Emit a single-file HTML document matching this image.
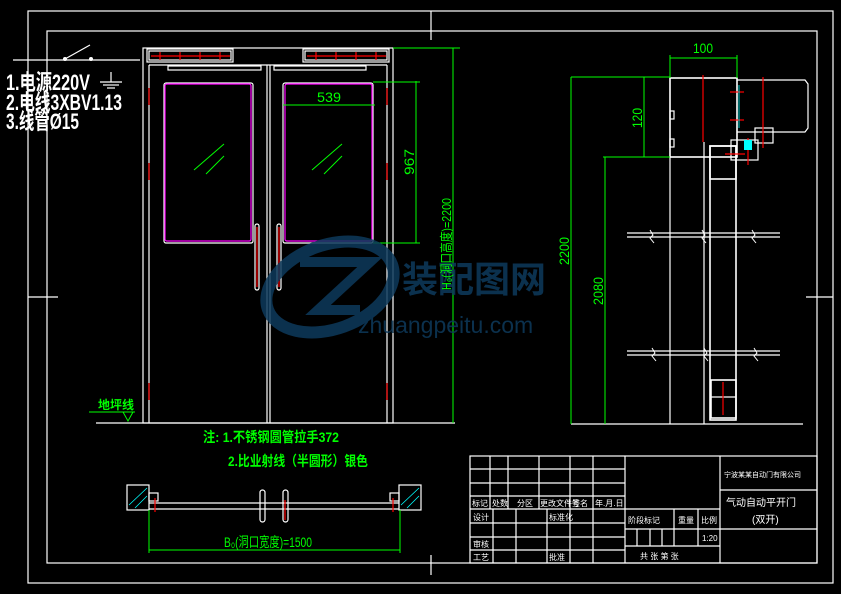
<!DOCTYPE html>
<html><head><meta charset="utf-8"><style>
html,body{margin:0;padding:0;background:#000;}
svg{display:block;}
text{font-family:"Liberation Sans","Noto Sans CJK SC",sans-serif;}
</style></head><body>
<svg width="841" height="594" viewBox="0 0 841 594" xmlns="http://www.w3.org/2000/svg">
<rect width="841" height="594" fill="#000"/>
<g fill="none" stroke="#fff" stroke-width="1.2">
<rect x="28" y="11" width="805" height="572"/>
<rect x="47" y="31" width="770" height="532"/>
<line x1="431" y1="11" x2="431" y2="40"/>
<line x1="28" y1="297" x2="58" y2="297"/>
<line x1="806" y1="297" x2="833" y2="297"/>
<line x1="431" y1="555" x2="431" y2="575"/>
<line x1="13" y1="60" x2="140" y2="60"/>
<line x1="65" y1="59" x2="90" y2="45"/>
<line x1="111" y1="72" x2="111" y2="82"/>
<line x1="100" y1="82" x2="122" y2="82"/>
<line x1="103" y1="85" x2="119" y2="85"/>
<line x1="107" y1="88" x2="115" y2="88"/>
<rect x="143" y="48" width="250" height="375"/>
<line x1="149" y1="65" x2="149" y2="423"/>
<line x1="387" y1="65" x2="387" y2="423"/>
<rect x="147" y="49" width="86" height="13"/>
<rect x="149" y="51" width="82" height="9"/>
<rect x="303" y="49" width="86" height="13"/>
<rect x="305" y="51" width="82" height="9"/>
<line x1="149" y1="65" x2="387" y2="65"/>
<rect x="168" y="66" width="93" height="4"/>
<rect x="274" y="66" width="92" height="4"/>
<line x1="267" y1="65" x2="267" y2="423"/>
<line x1="270" y1="65" x2="270" y2="423"/>
<rect x="164" y="83" width="89" height="160" rx="2"/>
<rect x="283" y="83" width="90" height="160" rx="2"/>
<rect x="255" y="224" width="4" height="66" rx="2"/>
<rect x="277" y="224" width="4" height="66" rx="2"/>
<line x1="96" y1="423" x2="455" y2="423"/>
<rect x="127" y="485" width="22" height="25"/>
<rect x="399" y="485" width="22" height="25"/>
<line x1="149" y1="503" x2="399" y2="503"/>
<line x1="149" y1="509" x2="399" y2="509"/>
<rect x="149" y="493" width="9" height="8"/>
<rect x="390" y="493" width="9" height="8"/>
<rect x="260" y="490" width="5" height="32" rx="2.5"/>
<rect x="283" y="490" width="5" height="32" rx="2.5"/>
<rect x="670" y="78" width="67" height="79" stroke-width="1.6"/>
<line x1="670" y1="157" x2="670" y2="424"/>
<line x1="704" y1="142" x2="704" y2="424"/>
<rect x="710" y="146" width="26" height="274" stroke-width="1.6"/>
<rect x="710" y="146" width="26" height="33" stroke-width="1.6"/>
<rect x="711" y="380" width="25" height="38" stroke-width="1.6"/>
<line x1="711" y1="397" x2="736" y2="397"/>
<path d="M737 80 H805 L808 84 V128 L805 132 H737"/>
<rect x="755" y="128" width="18" height="15"/>
<rect x="731" y="140" width="27" height="20"/>
<rect x="670" y="111" width="4" height="8"/>
<rect x="670" y="139" width="4" height="8"/>
<line x1="571" y1="424" x2="803" y2="424"/>
<line x1="627" y1="233" x2="780" y2="233"/>
<line x1="627" y1="237" x2="780" y2="237"/>
<line x1="627" y1="351" x2="780" y2="351"/>
<line x1="627" y1="355" x2="780" y2="355"/>
<rect x="470" y="456" width="347" height="107"/>
<line x1="470" y1="469" x2="625" y2="469"/>
<line x1="470" y1="483" x2="625" y2="483"/>
<line x1="470" y1="496" x2="625" y2="496"/>
<line x1="470" y1="509" x2="720" y2="509"/>
<line x1="470" y1="523" x2="625" y2="523"/>
<line x1="470" y1="537" x2="625" y2="537"/>
<line x1="470" y1="550" x2="625" y2="550"/>
<line x1="625" y1="529" x2="817" y2="529"/>
<line x1="625" y1="546" x2="720" y2="546"/>
<line x1="720" y1="490" x2="817" y2="490"/>
<line x1="625" y1="456" x2="625" y2="563"/>
<line x1="720" y1="456" x2="720" y2="563"/>
<line x1="490" y1="456" x2="490" y2="509"/>
<line x1="508" y1="456" x2="508" y2="509"/>
<line x1="539" y1="456" x2="539" y2="509"/>
<line x1="570" y1="456" x2="570" y2="509"/>
<line x1="593" y1="456" x2="593" y2="509"/>
<line x1="493" y1="509" x2="493" y2="563"/>
<line x1="516" y1="509" x2="516" y2="563"/>
<line x1="547" y1="509" x2="547" y2="563"/>
<line x1="570" y1="509" x2="570" y2="563"/>
<line x1="593" y1="509" x2="593" y2="563"/>
<line x1="674" y1="509" x2="674" y2="546"/>
<line x1="698" y1="509" x2="698" y2="546"/>
<line x1="637" y1="529" x2="637" y2="546"/>
<line x1="650" y1="529" x2="650" y2="546"/>
<line x1="662" y1="529" x2="662" y2="546"/>
</g>
<circle cx="65" cy="59" r="2" fill="#fff"/><circle cx="91" cy="59" r="2" fill="#fff"/>
<g fill="none" stroke="#fff" stroke-width="1">
<path d="M650 230 l3 5 -3 3 4 5"/><path d="M702 230 l3 5 -3 3 4 5"/><path d="M752 230 l3 5 -3 3 4 5"/>
<path d="M652 348 l3 5 -3 3 4 5"/><path d="M704 348 l3 5 -3 3 4 5"/><path d="M754 348 l3 5 -3 3 4 5"/>
</g>
<g fill="none" stroke="#f0f" stroke-width="1.2">
<rect x="165" y="84" width="86" height="157" rx="2"/>
<rect x="285" y="84" width="87" height="157" rx="2"/>
</g>
<g stroke="#f00" stroke-width="1.2" fill="none">
<line x1="151" y1="56" x2="230" y2="56"/><line x1="307" y1="56" x2="386" y2="56"/>
<line x1="160" y1="52" x2="160" y2="60"/><line x1="180" y1="52" x2="180" y2="60"/><line x1="200" y1="52" x2="200" y2="60"/><line x1="220" y1="52" x2="220" y2="60"/>
<line x1="316" y1="52" x2="316" y2="60"/><line x1="336" y1="52" x2="336" y2="60"/><line x1="356" y1="52" x2="356" y2="60"/><line x1="376" y1="52" x2="376" y2="60"/>
<line x1="149" y1="88" x2="149" y2="105"/><line x1="149" y1="163" x2="149" y2="180"/><line x1="149" y1="383" x2="149" y2="400"/>
<line x1="387" y1="88" x2="387" y2="105"/><line x1="387" y1="163" x2="387" y2="180"/><line x1="387" y1="383" x2="387" y2="400"/>
<line x1="257" y1="227" x2="257" y2="287"/><line x1="279" y1="227" x2="279" y2="287"/>
<line x1="703" y1="75" x2="703" y2="142"/><line x1="763" y1="77" x2="763" y2="148"/>
<line x1="730" y1="92" x2="744" y2="92"/><line x1="730" y1="120" x2="744" y2="120"/>
<line x1="725" y1="154" x2="745" y2="154"/><line x1="748" y1="138" x2="748" y2="165"/>
<line x1="723" y1="382" x2="723" y2="415"/>
<line x1="285" y1="500" x2="285" y2="520"/>
<line x1="155" y1="498" x2="155" y2="512"/><line x1="393" y1="498" x2="393" y2="512"/>
</g>
<rect x="744" y="140" width="8" height="10" fill="#0ff"/>
<g stroke="#0ff" stroke-width="0.8"><line x1="129" y1="505" x2="147" y2="488"/><line x1="135" y1="508" x2="147" y2="496"/><line x1="401" y1="505" x2="419" y2="488"/><line x1="407" y1="508" x2="419" y2="496"/><line x1="739" y1="85" x2="739" y2="128"/></g>
<g stroke="#0f0" stroke-width="1" fill="none">
<line x1="194" y1="170" x2="224" y2="144"/><line x1="206" y1="174" x2="224" y2="156"/>
<line x1="312" y1="170" x2="342" y2="144"/><line x1="324" y1="174" x2="342" y2="156"/>
<line x1="283" y1="105" x2="375" y2="105"/>
<line x1="416" y1="81" x2="416" y2="243"/>
<line x1="373" y1="82" x2="420" y2="82"/><line x1="373" y1="243" x2="420" y2="243"/>
<line x1="453" y1="48" x2="453" y2="423"/>
<line x1="393" y1="48" x2="460" y2="48"/>
<line x1="89" y1="412" x2="135" y2="412"/>
<path d="M123 412 l5 9 5 -9"/>
<line x1="149" y1="510" x2="149" y2="553"/><line x1="400" y1="510" x2="400" y2="553"/>
<line x1="149" y1="550" x2="400" y2="550"/>
<line x1="670" y1="55" x2="670" y2="78"/><line x1="737" y1="55" x2="737" y2="78"/>
<line x1="670" y1="58" x2="737" y2="58"/>
<line x1="571" y1="77" x2="670" y2="77"/>
<line x1="644" y1="77" x2="644" y2="157"/>
<line x1="603" y1="157" x2="670" y2="157"/>
<line x1="571" y1="77" x2="571" y2="424"/>
<line x1="605" y1="157" x2="605" y2="424"/>
</g>
<g opacity="0.85">
<ellipse cx="330" cy="287" rx="66" ry="42" transform="rotate(-20 330 287)" fill="none" stroke="#0e3a5c" stroke-width="12"/>
<path d="M300 262 H370 L318 310 H360" fill="none" stroke="#0e3a5c" stroke-width="10"/>
<text x="402" y="292" font-size="36" font-weight="bold" fill="#0e3a5c">装配图网</text>
<text x="358" y="333" font-size="23" fill="#0e3a5c">zhuangpeitu.com</text>
</g>
<g fill="#fff" font-size="22" font-weight="bold">
<text x="6" y="90" textLength="84" lengthAdjust="spacingAndGlyphs">1.电源220V</text>
<text x="6" y="110" textLength="116" lengthAdjust="spacingAndGlyphs">2.电线3XBV1.13</text>
<text x="6" y="129" textLength="73" lengthAdjust="spacingAndGlyphs">3.线管Ø15</text>
</g>
<g fill="#0f0" font-size="14">
<text x="317" y="102" textLength="24" lengthAdjust="spacingAndGlyphs">539</text>
<text transform="translate(414 175) rotate(-90)" textLength="26" lengthAdjust="spacingAndGlyphs">967</text>
<text transform="translate(451 290) rotate(-90)" font-size="13" textLength="92" lengthAdjust="spacingAndGlyphs">H₀(洞口高度)=2200</text>
<text x="224" y="547" font-size="14" textLength="88" lengthAdjust="spacingAndGlyphs">B₀(洞口宽度)=1500</text>
<text x="693" y="53" textLength="20" lengthAdjust="spacingAndGlyphs">100</text>
<text transform="translate(642 128) rotate(-90)" textLength="20" lengthAdjust="spacingAndGlyphs">120</text>
<text transform="translate(569 265) rotate(-90)" textLength="28" lengthAdjust="spacingAndGlyphs">2200</text>
<text transform="translate(603 305) rotate(-90)" textLength="28" lengthAdjust="spacingAndGlyphs">2080</text>
<text x="98" y="409" font-size="12" font-weight="bold">地坪线</text>
<text x="203" y="442" font-weight="bold" textLength="136" lengthAdjust="spacingAndGlyphs">注: 1.不锈钢圆管拉手372</text>
<text x="228" y="466" font-weight="bold" textLength="140" lengthAdjust="spacingAndGlyphs">2.比业射线（半圆形）银色</text>
</g>
<g fill="#fff" font-size="8">
<text x="472" y="506">标记</text><text x="492" y="506">处数</text><text x="517" y="506">分区</text><text x="540" y="506">更改文件号</text><text x="572" y="506">签名</text><text x="595" y="506">年.月.日</text>
<text x="473" y="520">设计</text><text x="549" y="520">标准化</text>
<text x="473" y="547">审核</text><text x="473" y="560">工艺</text><text x="549" y="560">批准</text>
<text x="628" y="523">阶段标记</text><text x="678" y="523">重量</text><text x="701" y="523">比例</text>
<text x="702" y="541">1:20</text>
<text x="640" y="559">共 张 第 张</text>
<text x="724" y="477" font-size="7">宁波某某自动门有限公司</text>
<text x="726" y="506" font-size="10">气动自动平开门</text>
<text x="752" y="523" font-size="10">(双开)</text>
</g>
</svg>
</body></html>
